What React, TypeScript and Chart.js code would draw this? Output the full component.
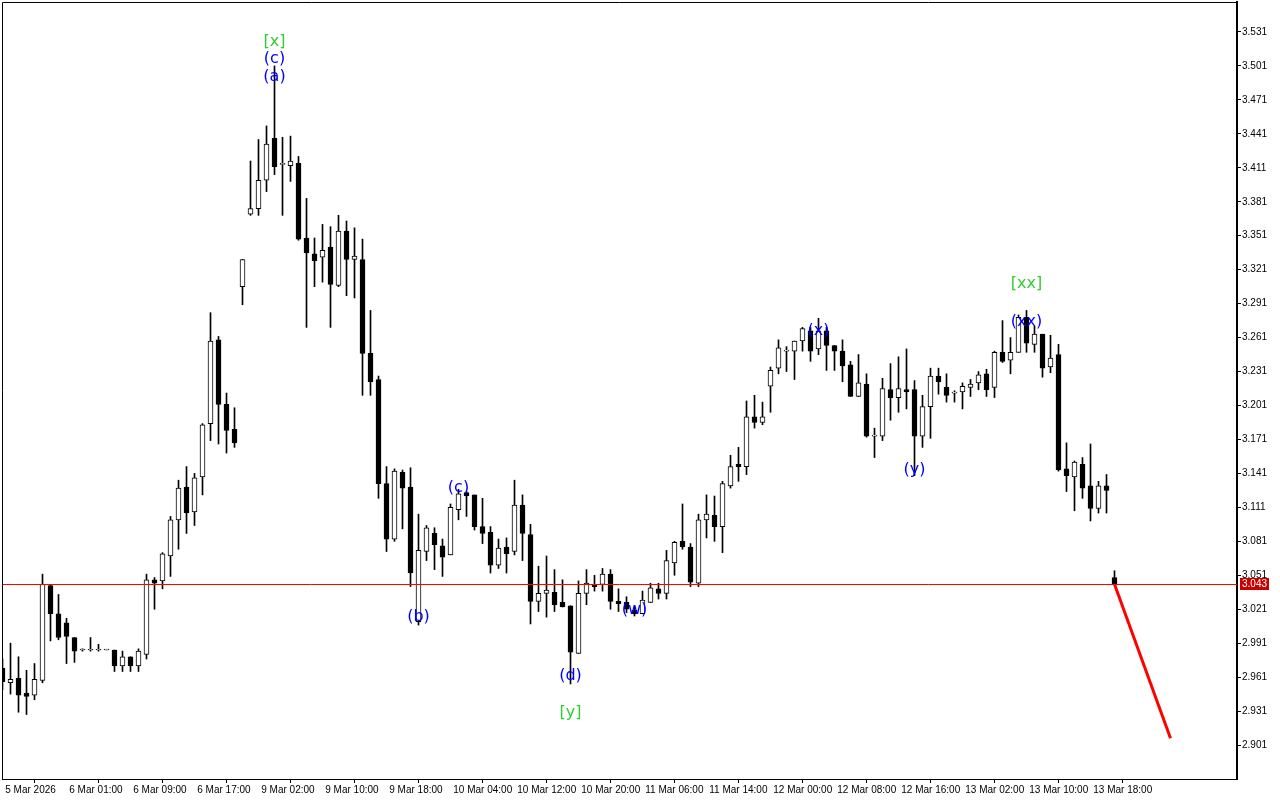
import React, { useEffect, useRef } from "react";
import { Chart, registerables } from "chart.js";

Chart.register(...registerables);

// Hourly candles, index 0 = 5 Mar 2026 17:00
const opens = [
  2.969, 2.956, 2.960, 2.947, 2.945, 2.958, 3.042, 3.017, 3.009, 2.996,
  2.985, 2.985, 2.985, 2.985, 2.985, 2.971, 2.979, 2.971, 2.981, 3.047,
  3.046, 3.068, 3.100, 3.129, 3.107, 3.138, 3.185, 3.259, 3.202, 3.180,
  3.306, 3.370, 3.375, 3.400, 3.437, 3.414, 3.413, 3.415, 3.349, 3.335,
  3.332, 3.341, 3.307, 3.355, 3.330, 3.330, 3.247, 3.224, 3.132, 3.083,
  3.142, 3.129, 3.010, 3.072, 3.088, 3.077, 3.069, 3.109, 3.124, 3.122,
  3.094, 3.089, 3.060, 3.076, 3.072, 3.113, 3.087, 3.028, 3.035, 3.036,
  3.027, 3.024, 2.982, 3.035, 3.043, 3.043, 3.052, 3.028, 3.027, 3.020,
  3.017, 3.027, 3.039, 3.035, 3.062, 3.081, 3.076, 3.044, 3.100, 3.104,
  3.094, 3.130, 3.149, 3.147, 3.191, 3.186, 3.218, 3.234, 3.249, 3.249,
  3.258, 3.267, 3.251, 3.267, 3.254, 3.249, 3.237, 3.209, 3.220, 3.174,
  3.174, 3.215, 3.208, 3.215, 3.215, 3.174, 3.200, 3.227, 3.217, 3.212,
  3.213, 3.217, 3.221, 3.229, 3.217, 3.248, 3.241, 3.248, 3.279, 3.255,
  3.264, 3.235, 3.246, 3.145, 3.138, 3.149, 3.130, 3.110, 3.130, 3.049,
];
const highs = [
  2.977, 2.991, 2.979, 2.967, 2.973, 3.052, 3.043, 3.034, 3.013, 2.996,
  2.986, 2.996, 2.990, 2.985, 2.985, 2.984, 2.979, 2.986, 3.052, 3.049,
  3.071, 3.103, 3.135, 3.147, 3.141, 3.185, 3.283, 3.262, 3.212, 3.199,
  3.330, 3.417, 3.436, 3.448, 3.501, 3.438, 3.439, 3.421, 3.384, 3.349,
  3.361, 3.359, 3.369, 3.364, 3.358, 3.348, 3.285, 3.227, 3.147, 3.145,
  3.144, 3.146, 3.105, 3.095, 3.093, 3.083, 3.114, 3.127, 3.125, 3.122,
  3.119, 3.094, 3.083, 3.084, 3.135, 3.122, 3.096, 3.059, 3.068, 3.056,
  3.047, 3.024, 3.046, 3.056, 3.051, 3.057, 3.056, 3.039, 3.032, 3.023,
  3.037, 3.044, 3.044, 3.073, 3.081, 3.114, 3.079, 3.105, 3.122, 3.121,
  3.134, 3.157, 3.164, 3.205, 3.210, 3.204, 3.235, 3.259, 3.253, 3.258,
  3.270, 3.270, 3.278, 3.270, 3.254, 3.259, 3.240, 3.246, 3.229, 3.181,
  3.225, 3.238, 3.244, 3.251, 3.223, 3.210, 3.234, 3.234, 3.229, 3.214,
  3.221, 3.224, 3.231, 3.233, 3.249, 3.276, 3.261, 3.281, 3.285, 3.271,
  3.264, 3.263, 3.255, 3.168, 3.152, 3.155, 3.167, 3.134, 3.140, 3.055,
];
const lows = [
  2.950, 2.946, 2.930, 2.928, 2.941, 2.956, 2.993, 2.994, 2.973, 2.974,
  2.984, 2.984, 2.984, 2.985, 2.966, 2.966, 2.966, 2.966, 2.977, 3.021,
  3.039, 3.050, 3.074, 3.088, 3.095, 3.122, 3.170, 3.167, 3.159, 3.164,
  3.290, 3.369, 3.369, 3.390, 3.405, 3.369, 3.399, 3.347, 3.270, 3.306,
  3.310, 3.270, 3.306, 3.298, 3.296, 3.210, 3.210, 3.119, 3.072, 3.081,
  3.092, 3.041, 3.007, 3.064, 3.056, 3.050, 3.069, 3.100, 3.103, 3.091,
  3.079, 3.053, 3.057, 3.053, 3.069, 3.064, 3.008, 3.019, 3.014, 3.019,
  3.023, 2.955, 2.982, 3.025, 3.037, 3.037, 3.021, 3.019, 3.018, 3.015,
  3.017, 3.027, 3.030, 3.030, 3.051, 3.074, 3.041, 3.041, 3.084, 3.081,
  3.071, 3.128, 3.134, 3.140, 3.181, 3.184, 3.195, 3.229, 3.231, 3.224,
  3.249, 3.240, 3.246, 3.232, 3.232, 3.222, 3.209, 3.209, 3.173, 3.155,
  3.170, 3.188, 3.195, 3.198, 3.139, 3.164, 3.172, 3.211, 3.204, 3.204,
  3.198, 3.209, 3.215, 3.209, 3.208, 3.239, 3.229, 3.248, 3.248, 3.248,
  3.226, 3.230, 3.143, 3.125, 3.108, 3.119, 3.099, 3.106, 3.106, 3.043,
];
const closes = [
  2.957, 2.959, 2.945, 2.944, 2.959, 3.043, 3.017, 2.996, 2.997, 2.984,
  2.985, 2.985, 2.985, 2.985, 2.971, 2.979, 2.971, 2.984, 3.047, 3.044,
  3.070, 3.100, 3.128, 3.106, 3.137, 3.184, 3.258, 3.202, 3.179, 3.168,
  3.330, 3.375, 3.400, 3.432, 3.412, 3.415, 3.417, 3.348, 3.336, 3.329,
  3.338, 3.308, 3.355, 3.330, 3.333, 3.247, 3.222, 3.132, 3.083, 3.143,
  3.128, 3.053, 3.073, 3.093, 3.078, 3.067, 3.111, 3.123, 3.121, 3.094,
  3.088, 3.060, 3.075, 3.070, 3.113, 3.088, 3.028, 3.035, 3.038, 3.025,
  3.023, 2.983, 3.035, 3.044, 3.041, 3.052, 3.028, 3.026, 3.021, 3.017,
  3.029, 3.040, 3.035, 3.064, 3.080, 3.076, 3.045, 3.100, 3.105, 3.094,
  3.132, 3.147, 3.147, 3.191, 3.186, 3.191, 3.232, 3.252, 3.250, 3.258,
  3.269, 3.249, 3.267, 3.254, 3.249, 3.236, 3.209, 3.221, 3.174, 3.174,
  3.216, 3.208, 3.216, 3.213, 3.174, 3.200, 3.227, 3.222, 3.210, 3.212,
  3.218, 3.220, 3.228, 3.215, 3.248, 3.240, 3.248, 3.279, 3.256, 3.264,
  3.234, 3.243, 3.144, 3.139, 3.151, 3.128, 3.110, 3.130, 3.126, 3.043,
];

// Time axis labels (every 8 bars)
const timeTickIndex = [0, 8, 16, 24, 32, 40, 48, 56, 64, 72, 80, 88, 96, 104, 112, 120, 128, 136];
const timeTickLabels = [
  "5 Mar 2026", "6 Mar 01:00", "6 Mar 09:00", "6 Mar 17:00", "9 Mar 02:00", "9 Mar 10:00",
  "9 Mar 18:00", "10 Mar 04:00", "10 Mar 12:00", "10 Mar 20:00", "11 Mar 06:00", "11 Mar 14:00",
  "12 Mar 00:00", "12 Mar 08:00", "12 Mar 16:00", "13 Mar 02:00", "13 Mar 10:00", "13 Mar 18:00",
];

// Price axis ticks
const priceTicks = [
  2.901, 2.931, 2.961, 2.991, 3.021, 3.051, 3.081, 3.111, 3.141, 3.171, 3.201,
  3.231, 3.261, 3.291, 3.321, 3.351, 3.381, 3.411, 3.441, 3.471, 3.501, 3.531,
];

// Current price and forecast
const currentPrice = 3.043;
const forecastIndex = [139, 146];
const forecastPrice = [3.043, 2.907];

// Wave annotations
const waveLabels = ["[x]", "(c)", "(a)", "(b)", "(c)", "(d)", "[y]", "(w)", "(x)", "(y)", "[xx]", "(xx)"];
const waveIndex = [34, 34, 34, 52, 57, 71, 71, 79, 102, 114, 128, 128];
const wavePrice = [3.524, 3.509, 3.493, 3.016, 3.130, 2.964, 2.931, 3.022, 3.269, 3.146, 3.310, 3.277];

const X_MIN = -0.0625;
const X_MAX = 154.3125;
const Y_MIN = 2.871;
const Y_MAX = 3.5575;

export default function App() {
  const canvasRef = useRef<HTMLCanvasElement | null>(null);

  useEffect(() => {
    const canvas = canvasRef.current;
    if (!canvas) return;

    const wickData = lows.map((l, i) => ({ x: i, y: [l, highs[i]] }));
    const bodyData = opens.map((o, i) => ({ x: i, y: [o, closes[i]] }));
    const bodyColors = opens.map((o, i) => (closes[i] >= o ? "#ffffff" : "#000000"));

    const overlay = {
      id: "mtOverlay",
      afterDatasetsDraw(chart: any) {
        const { ctx, chartArea, scales } = chart;
        const xs = scales.x;
        const ys = scales.y;
        ctx.save();
        ctx.beginPath();
        ctx.rect(chartArea.left, chartArea.top, chartArea.right - chartArea.left, chartArea.bottom - chartArea.top);
        ctx.clip();
        // current price line
        const py = Math.round(ys.getPixelForValue(currentPrice)) + 0.5;
        ctx.strokeStyle = "#ff0000";
        ctx.lineWidth = 1;
        ctx.beginPath();
        ctx.moveTo(chartArea.left, py);
        ctx.lineTo(chartArea.right, py);
        ctx.stroke();
        // wave labels
        ctx.font = '16px "DejaVu Sans"';
        ctx.textAlign = "center";
        ctx.textBaseline = "middle";
        waveLabels.forEach((t, k) => {
          ctx.fillStyle = t.startsWith("[") ? "#32cd32" : "#0000ff";
          ctx.fillText(t, xs.getPixelForValue(waveIndex[k]), ys.getPixelForValue(wavePrice[k]) + 2);
        });
        ctx.restore();
      },
      afterDraw(chart: any) {
        const { ctx, chartArea, scales } = chart;
        const ys = scales.y;
        ctx.save();
        ctx.strokeStyle = "#000000";
        ctx.lineWidth = 1;
        ctx.beginPath();
        ctx.moveTo(chartArea.left + 0.5, chartArea.bottom);
        ctx.lineTo(chartArea.left + 0.5, chartArea.top + 0.5);
        ctx.lineTo(chartArea.right, chartArea.top + 0.5);
        ctx.stroke();
        // price box on axis
        const py = Math.round(ys.getPixelForValue(currentPrice));
        ctx.fillStyle = "#c80000";
        ctx.fillRect(chartArea.right + 3, py - 6, 29, 12);
        ctx.fillStyle = "#ffffff";
        ctx.font = '10px "Liberation Sans"';
        ctx.textAlign = "left";
        ctx.textBaseline = "middle";
        ctx.fillText(currentPrice.toFixed(3), chartArea.right + 5, py + 0.5);
        ctx.restore();
      },
    };

    const chart = new Chart(canvas, {
      type: "bar",
      data: {
        datasets: [
          {
            type: "line",
            data: forecastIndex.map((x, k) => ({ x, y: forecastPrice[k] })),
            borderColor: "#ff0000",
            borderWidth: 3,
            pointRadius: 0,
            order: 0,
          } as any,
          {
            type: "bar",
            data: wickData as any,
            backgroundColor: "#000000",
            borderWidth: 0,
            barThickness: 1,
            grouped: false,
            order: 3,
          } as any,
          {
            type: "bar",
            data: bodyData as any,
            backgroundColor: bodyColors,
            borderColor: "#000000",
            borderWidth: 1,
            borderSkipped: false,
            barThickness: 5,
            minBarLength: 1,
            grouped: false,
            order: 2,
          } as any,
        ],
      },
      options: {
        animation: false,
        responsive: false,
        devicePixelRatio: 1,
        events: [],
        layout: { padding: { left: 2, top: 2, right: 0, bottom: 0 } },
        plugins: { legend: { display: false }, tooltip: { enabled: false } },
        scales: {
          x: {
            type: "linear",
            min: X_MIN,
            max: X_MAX,
            offset: false,
            grid: { drawOnChartArea: false, drawTicks: true, tickLength: 4, color: "#000000" },
            border: { display: true, color: "#000000", width: 1 },
            afterBuildTicks: (scale: any) => {
              scale.ticks = timeTickIndex.map((v) => ({ value: v }));
            },
            afterFit: (scale: any) => {
              scale.height = 21;
              scale.paddingLeft = 0;
              scale.paddingRight = 0;
            },
            ticks: {
              autoSkip: false,
              maxRotation: 0,
              minRotation: 0,
              align: "start",
              padding: 1,
              color: "#000000",
              font: { family: '"Liberation Sans"', size: 10 },
              callback: (v: any) => {
                const k = timeTickIndex.indexOf(Number(v));
                return k >= 0 ? " " + timeTickLabels[k] : "";
              },
            },
          },
          y: {
            type: "linear",
            position: "right",
            min: Y_MIN,
            max: Y_MAX,
            grid: { drawOnChartArea: false, drawTicks: true, tickLength: 4, color: "#000000" },
            border: { display: true, color: "#000000", width: 2 },
            afterBuildTicks: (scale: any) => {
              scale.ticks = priceTicks.map((v) => ({ value: v }));
            },
            afterFit: (scale: any) => {
              scale.width = 43;
              scale.paddingTop = 0;
              scale.paddingBottom = 0;
            },
            ticks: {
              padding: 1,
              color: "#000000",
              font: { family: '"Liberation Sans"', size: 10 },
              callback: (v: any) => Number(v).toFixed(3),
            },
          },
        },
      },
      plugins: [overlay],
    });

    return () => chart.destroy();
  }, []);

  return (
    <div style={{ position: "fixed", left: 0, top: 0, width: 1280, height: 800, background: "#ffffff" }}>
      <canvas ref={canvasRef} width={1280} height={800} style={{ display: "block", width: 1280, height: 800 }} />
    </div>
  );
}
